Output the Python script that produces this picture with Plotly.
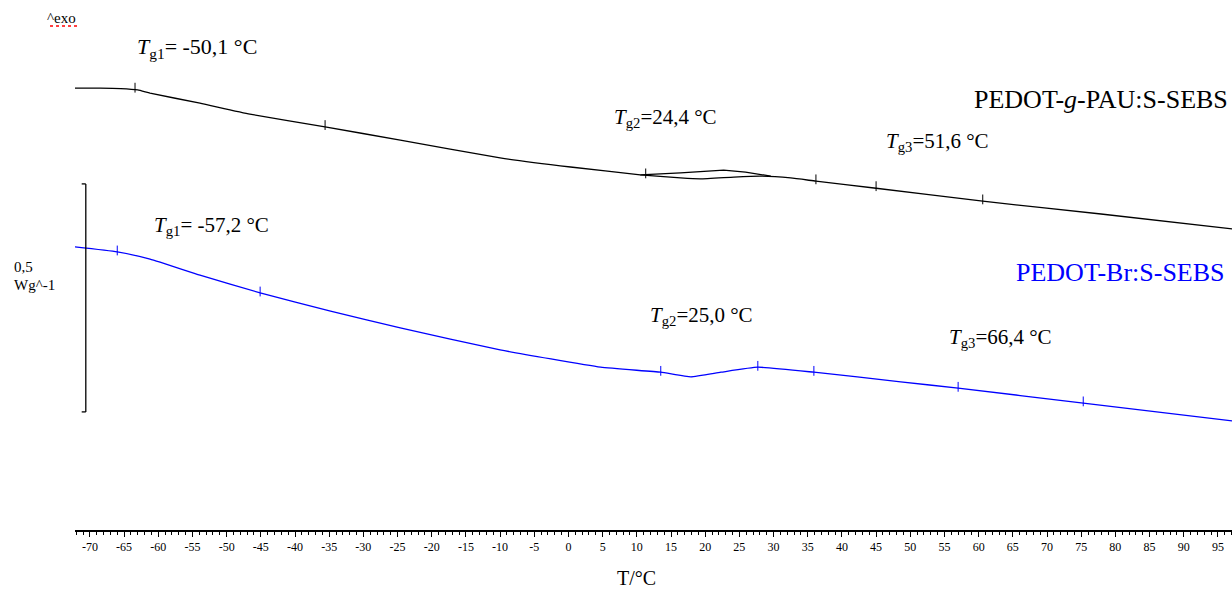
import plotly.graph_objects as go

# ---------------- data ----------------
# Temperature in °C, heat flow in W/g (arbitrary vertical offset per DSC plot)
pau_T = [-72.2, -68.5, -65.5, -63.0, -61.2, -53.9, -46.6, -35.6, -24.6, -10.0, 0.3, 10.5,
         16.4, 19.3, 24.2, 28.1, 32.5, 36.2, 44.7, 60.6, 77.9, 97.2]
pau_hf = [0.969, 0.969, 0.968, 0.965, 0.958, 0.936, 0.912, 0.884, 0.855, 0.816, 0.796, 0.779,
          0.772, 0.770, 0.774, 0.776, 0.772, 0.765, 0.750, 0.721, 0.693, 0.660]
# second (upper) branch of the small loop around Tg2
pau_loop_T = [10.5, 16.4, 22.7, 25.9, 29.6]
pau_loop_hf = [0.779, 0.783, 0.789, 0.785, 0.776]
# evaluation markers on the curve
pau_mark_T = [-63.4, -35.6, 11.3, 36.2, 45.0, 60.6]
pau_mark_hf = [0.970, 0.888, 0.782, 0.769, 0.754, 0.725]

br_T = [-72.2, -66.0, -61.2, -53.9, -45.1, -34.8, -24.6, -10.0, 4.7, 13.5, 17.9,
        22.3, 27.7, 35.9, 48.6, 57.0, 75.0, 97.2]
br_hf = [0.621, 0.610, 0.594, 0.559, 0.520, 0.480, 0.443, 0.395, 0.357, 0.346, 0.336,
         0.346, 0.357, 0.346, 0.325, 0.311, 0.279, 0.239]
br_mark_T = [-66.0, -45.1, 13.5, 27.7, 35.9, 57.0, 75.3]
br_mark_hf = [0.613, 0.523, 0.349, 0.360, 0.349, 0.314, 0.282]

tick_vals = list(range(-70, 100, 5))
tick_text = [str(v) for v in tick_vals]

scale_bar_value = 0.5      # W/g
scale_bar_base = 0.259

labels_pau = ["<i>T</i><sub>g1</sub>= -50,1 °C", "<i>T</i><sub>g2</sub>=24,4 °C", "<i>T</i><sub>g3</sub>=51,6 °C"]
labels_br = ["<i>T</i><sub>g1</sub>= -57,2 °C", "<i>T</i><sub>g2</sub>=25,0 °C", "<i>T</i><sub>g3</sub>=66,4 °C"]

FONT = "Liberation Serif, Times New Roman, serif"
BLUE = "#0000ff"

fig = go.Figure()
fig.add_trace(go.Scatter(x=pau_T, y=pau_hf, mode="lines", line=dict(color="black", width=1.3, shape="spline", smoothing=0.4)))
fig.add_trace(go.Scatter(x=pau_loop_T, y=pau_loop_hf, mode="lines", line=dict(color="black", width=1.3)))
fig.add_trace(go.Scatter(x=pau_mark_T, y=pau_mark_hf, mode="markers",
                         marker=dict(symbol="line-ns", size=7, line=dict(color="black", width=1))))
fig.add_trace(go.Scatter(x=br_T, y=br_hf, mode="lines", line=dict(color=BLUE, width=1.3, shape="spline", smoothing=0.4)))
fig.add_trace(go.Scatter(x=br_mark_T, y=br_mark_hf, mode="markers",
                         marker=dict(symbol="line-ns", size=7, line=dict(color=BLUE, width=1))))

# scale bar (0.5 W/g)
xb, xt = -70.6, -71.2
top = scale_bar_base + scale_bar_value
shapes = [
    dict(type="line", x0=xb, x1=xb, y0=scale_bar_base, y1=top, line=dict(color="black", width=1.3)),
    dict(type="line", x0=xt, x1=xb, y0=top, y1=top, line=dict(color="black", width=1.3)),
    dict(type="line", x0=xt, x1=xb, y0=scale_bar_base, y1=scale_bar_base, line=dict(color="black", width=1.3)),
    # red wavy spell-check underline under "exo"
    dict(type="line", xref="paper", yref="paper", x0=-0.0216, x1=0.0026, y0=0.951, y1=0.951,
         line=dict(color="red", width=1.5, dash="dot")),
]

ann = []
def add(text, x, y, size, color="black", xanchor="left", xref="x", yref="y"):
    ann.append(dict(text=text, x=x, y=y, xref=xref, yref=yref, xanchor=xanchor, yanchor="middle",
                    showarrow=False, font=dict(family=FONT, size=size, color=color)))

add(labels_pau[0], -63.4, 1.057, 22)
add(labels_pau[1], 6.4, 0.904, 21)
add(labels_pau[2], 46.1, 0.851, 21)
add("PEDOT-<i>g</i>-PAU:S-SEBS", 96.7, 0.943, 26, xanchor="right")
add(labels_br[0], -60.9, 0.667, 21)
add(labels_br[1], 11.6, 0.469, 21)
add(labels_br[2], 55.3, 0.421, 21)
add("PEDOT-Br:S-SEBS", 96.4, 0.564, 26, color=BLUE, xanchor="right")
add("0,5", -0.0545, 0.496, 15, xref="paper", yref="paper")
add("Wg^-1", -0.0545, 0.462, 15, xref="paper", yref="paper")
add("^exo", -0.0259, 0.966, 15, xref="paper", yref="paper")
add("T/°C", 0.485, -0.0906, 20, xanchor="center", xref="paper", yref="paper")

fig.update_layout(
    width=1232, height=590,
    margin=dict(l=75, r=0, t=0, b=60),
    paper_bgcolor="white", plot_bgcolor="white",
    showlegend=False,
    shapes=shapes, annotations=ann,
    xaxis=dict(range=[-72.18, 97.06], showgrid=False, zeroline=False,
               showline=True, linecolor="black", linewidth=1.5,
               tickmode="array", tickvals=tick_vals, ticktext=tick_text,
               ticks="outside", ticklen=5, tickwidth=1, tickcolor="black",
               tickfont=dict(family=FONT, size=12, color="black"),
               minor=dict(tickmode="linear", tick0=0, dtick=1, ticks="outside",
                          ticklen=3, tickwidth=1, tickcolor="black")),
    yaxis=dict(range=[0, 530 / 456], visible=False, showgrid=False, zeroline=False),
)

fig.write_html("out.html", config={"displayModeBar": False},
               post_script="document.body.style.margin='0px';document.body.style.overflow='hidden';")
